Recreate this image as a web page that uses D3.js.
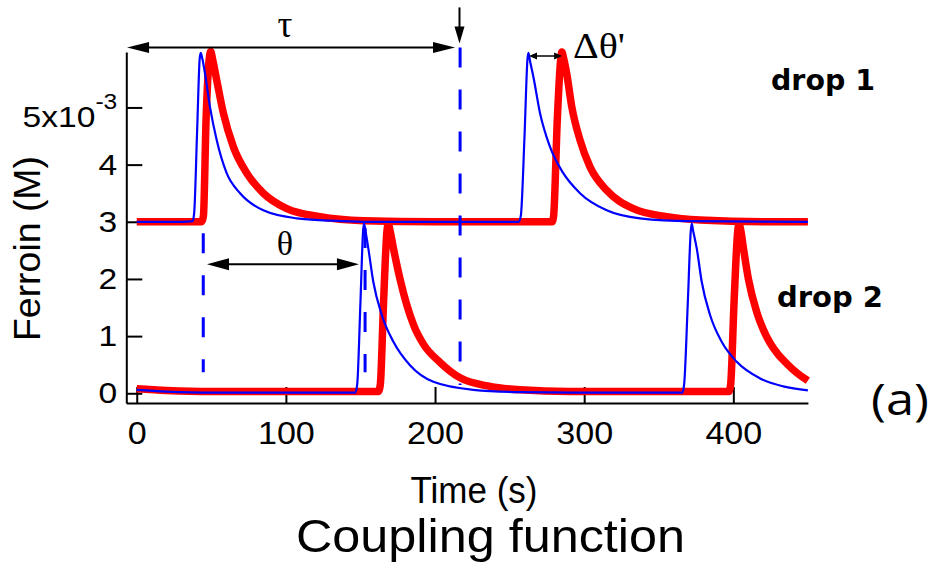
<!DOCTYPE html>
<html><head><meta charset="utf-8">
<script src="https://cdn.jsdelivr.net/npm/d3@7"></script>
<style>body{margin:0;background:#fff}svg{display:block}</style>
</head><body><svg id="c" width="937" height="573"></svg>
<script>
// ---- data ----
const xTicks = [0, 100, 200, 300, 400];
const yTicks = [0, 1, 2, 3, 4, 5];
const yTickLabels = ["0", "1", "2", "3", "4", "5x10"];
const yExponent = "-3";

// drop 1 (offset by 3e-3 M)
const d1BlueT = [0, 30, 37.5, 38.5, 40.5, 42.2, 42.9, 44, 45.8, 49.1, 53.6, 60.3, 69.3, 84.9, 107.3, 130, 152, 200, 256, 257.5, 260, 262, 262.6, 263.8, 265.9, 270.4, 277.1, 286, 297.2, 315.1, 337.4, 371, 450];
const d1BlueV = [3.0, 3.0, 3.01, 3.15, 4.6, 5.85, 5.955, 5.85, 5.59, 5.01, 4.43, 3.85, 3.5, 3.2, 3.06, 3.02, 3.0, 3.0, 3.0, 3.1, 4.5, 5.85, 5.955, 5.8, 5.54, 4.9, 4.31, 3.85, 3.5, 3.2, 3.06, 3.01, 3.0];
const d1RedT = [0, 43.5, 44.7, 46.5, 48.6, 49.6, 50.8, 53.6, 58.1, 64.8, 73.8, 84.9, 100.6, 122.9, 152, 200, 278.5, 279.5, 282, 284.3, 285, 286.3, 288.3, 291.7, 297.2, 303.9, 315.1, 333, 355.3, 377.7, 420, 450];
const d1RedV = [3.0, 3.0, 3.1, 4.8, 5.85, 5.98, 5.85, 5.48, 4.9, 4.31, 3.85, 3.5, 3.23, 3.09, 3.02, 3.0, 3.0, 3.1, 4.8, 5.85, 5.97, 5.85, 5.59, 5.01, 4.43, 3.96, 3.55, 3.23, 3.09, 3.03, 3.0, 3.0];

// drop 2
const d2BlueT = [0, 20, 50, 146.5, 147.8, 150, 151.8, 152.4, 153.3, 155.3, 158.6, 164.3, 172.1, 183.2, 198.9, 225.7, 257, 300, 365.8, 367, 369.5, 371.5, 372.1, 373, 375.5, 378.8, 384.4, 392.2, 402.3, 417.9, 433.5, 450];
const d2BlueV = [0.06, 0.03, 0.01, 0.01, 0.15, 1.6, 2.85, 2.97, 2.85, 2.53, 1.95, 1.37, 0.9, 0.49, 0.2, 0.06, 0.02, 0.01, 0.01, 0.15, 1.6, 2.85, 2.97, 2.85, 2.53, 1.95, 1.37, 0.9, 0.55, 0.26, 0.12, 0.05];
const d2RedT = [0, 20, 50, 162, 163.3, 165.5, 167.8, 168.7, 169.8, 172, 176.5, 181, 186, 192.2, 203.4, 216.8, 236.9, 257, 290, 397, 398.2, 400.5, 403, 403.8, 405, 406.7, 410.1, 415.7, 420, 424.6, 430, 435.8, 442, 450];
const d2RedV = [0.08, 0.05, 0.03, 0.03, 0.15, 1.6, 2.85, 2.97, 2.85, 2.55, 2.0, 1.55, 1.17, 0.86, 0.54, 0.27, 0.12, 0.06, 0.03, 0.03, 0.15, 1.6, 2.85, 2.96, 2.85, 2.55, 2.0, 1.42, 1.12, 0.88, 0.68, 0.52, 0.37, 0.22];

// annotations (data coordinates)
const dashT = [44.6, 153.1, 216.8];
const dashTop = [2.80, 2.89, 6.05];
const dashBottom = [0.37, 0.37, 0.145];
const tauArrow = [-6.5, 213.4, 6.05];      // t0, t1, level
const downArrow = [216.4, 6.75, 6.12];     // t, from, to
const thetaArrow = [47.1, 149.0, 2.255];
const dThetaArrow = [263, 285.2, 5.90];

// ---- drawing ----
const svg = d3.select("#c");
const x = d3.scaleLinear().domain([-7, 450]).range([126.3, 807.9]);
const y = d3.scaleLinear().domain([-0.17, 5.97]).range([403, 52]);
const SANS = "'Liberation Sans', Arial, sans-serif";
const SERIF = "'Liberation Serif', 'Times New Roman', serif";

function stretch(sel, sx) {
  sel.each(function () {
    const t = d3.select(this);
    const tx = +t.attr("x") || 0, ty = +t.attr("y") || 0;
    t.attr("x", 0).attr("y", 0).attr("transform", `translate(${tx},${ty}) scale(${sx},1)`);
  });
}

// axes
const gx = svg.append("g").attr("transform", "translate(0,403)")
  .call(d3.axisBottom(x).tickValues(xTicks).tickSizeInner(-16).tickSizeOuter(0).tickPadding(19).tickFormat(d3.format("d")));
const gy = svg.append("g").attr("transform", "translate(126.3,0)")
  .call(d3.axisLeft(y).tickValues(yTicks).tickSizeInner(-16).tickSizeOuter(0).tickPadding(9).tickFormat((d, i) => yTickLabels[i]));
[gx, gy].forEach(g => {
  g.select(".domain").attr("stroke", "#000").attr("stroke-width", 2);
  g.selectAll(".tick line").attr("stroke", "#000").attr("stroke-width", 2);
  g.selectAll(".tick text").attr("fill", "#000").attr("font-family", SANS);
});
gx.selectAll(".tick text").attr("font-size", 31);
gy.selectAll(".tick text").attr("font-size", 30);
gy.selectAll(".tick").filter(d => d === 5).select("text")
  .attr("y", 9.5)
  .append("tspan").attr("dy", -18).attr("font-size", 22).text(yExponent);
stretch(gx.selectAll(".tick text"), 1.1);
stretch(gy.selectAll(".tick text"), 1.12);

// curves
const line = d3.line().x(d => x(d[0])).y(d => y(d[1])).curve(d3.curveMonotoneX);
const zip = (T, V) => T.map((t, i) => [t, V[i]]);
const series = [
  { T: d1RedT, V: d1RedV, c: "#ff0000", w: 7.5 },
  { T: d2RedT, V: d2RedV, c: "#ff0000", w: 7.5 },
  { T: d1BlueT, V: d1BlueV, c: "#0000ff", w: 2.2 },
  { T: d2BlueT, V: d2BlueV, c: "#0000ff", w: 2.2 }
];
series.forEach(s => {
  svg.append("path").attr("d", line(zip(s.T, s.V)))
    .attr("fill", "none").attr("stroke", s.c).attr("stroke-width", s.w)
    .attr("stroke-linejoin", "round").attr("stroke-linecap", "butt");
});

// dashed lines
dashT.forEach((t, i) => {
  svg.append("line").attr("x1", x(t)).attr("x2", x(t)).attr("y1", y(dashTop[i])).attr("y2", y(dashBottom[i]))
    .attr("stroke", "#0000ff").attr("stroke-width", 3).attr("stroke-dasharray", "20,22");
});

// arrows
function head(tx, ty, dx, dy, len, half) {
  const px = -dy, py = dx;
  const bx = tx - dx * len, by = ty - dy * len;
  svg.append("path").attr("d", `M${tx},${ty}L${bx + px * half},${by + py * half}L${bx - px * half},${by - py * half}Z`).attr("fill", "#000");
}
function hArrow(t0, t1, v, len, half, w) {
  const x0 = x(t0), x1 = x(t1), yy = y(v);
  svg.append("line").attr("x1", x0 + len * 0.8).attr("x2", x1 - len * 0.8).attr("y1", yy).attr("y2", yy)
    .attr("stroke", "#000").attr("stroke-width", w);
  head(x0, yy, -1, 0, len, half);
  head(x1, yy, 1, 0, len, half);
}
hArrow(tauArrow[0], tauArrow[1], tauArrow[2], 22, 5.5, 2);
hArrow(thetaArrow[0], thetaArrow[1], thetaArrow[2], 22, 6, 2);
hArrow(dThetaArrow[0], dThetaArrow[1], dThetaArrow[2], 8, 3.5, 1.5);
{
  const xx = x(downArrow[0]), y0 = y(downArrow[1]), y1 = y(downArrow[2]);
  svg.append("line").attr("x1", xx).attr("x2", xx).attr("y1", y0).attr("y2", y1 - 14).attr("stroke", "#000").attr("stroke-width", 2);
  head(xx, y1, 0, 1, 17, 5);
}

// text
function txt(s, px, py, opt) {
  const t = svg.append("text").attr("x", px).attr("y", py).text(s)
    .attr("font-family", opt.f || SANS).attr("font-size", opt.s).attr("fill", "#000")
    .attr("text-anchor", opt.a || "start");
  if (opt.b) t.attr("font-weight", "bold");
  if (opt.L) t.attr("textLength", opt.L).attr("lengthAdjust", "spacingAndGlyphs");
  if (opt.r) t.attr("transform", `rotate(${opt.r},${px},${py})`);
  return t;
}
txt("τ", 285, 37, { f: SERIF, s: 37, a: "middle" });
txt("θ", 285, 255, { f: SERIF, s: 34, a: "middle" });
txt("Δθ'", 573, 58, { f: SERIF, s: 36, L: 52 });
txt("drop 1", 771, 90, { f: "'DejaVu Sans', sans-serif", s: 29, b: true, L: 104 });
txt("drop 2", 777, 306.7, { f: "'DejaVu Sans', sans-serif", s: 29, b: true, L: 106 });
txt("(a)", 871, 415, { f: "'Open Sans', sans-serif", s: 44, L: 58 });
txt("Ferroin (M)", 40, 248.5, { s: 36, a: "middle", r: -90, L: 185 });
txt("Time (s)", 474, 503, { s: 36, a: "middle", L: 127 });
txt("Coupling function", 490.5, 552, { s: 47, a: "middle", L: 389 });
</script></body></html>
